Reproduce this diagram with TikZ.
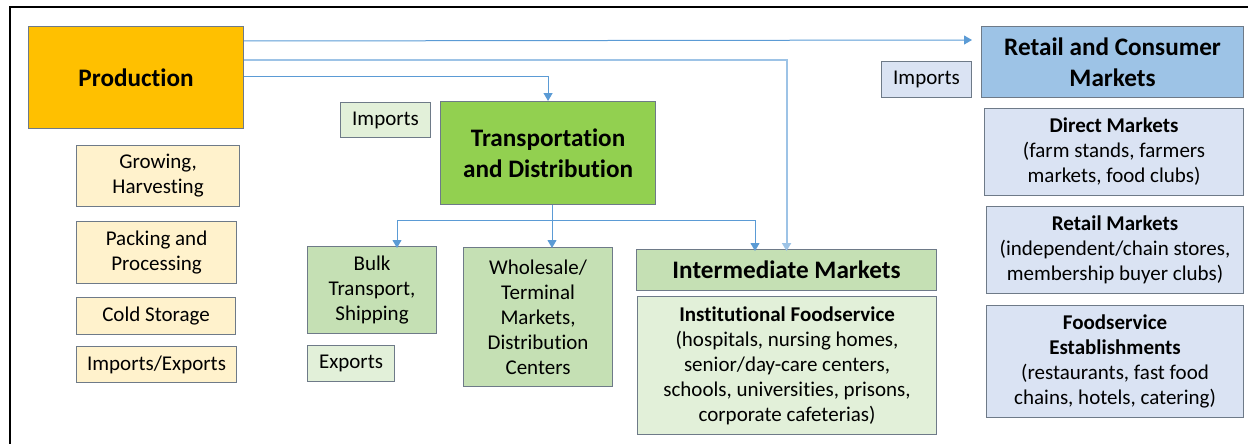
\documentclass[tikz,border=0pt]{standalone}
\usepackage{fontspec}
\setmainfont{Carlito}[Ligatures={NoCommon}]
\usetikzlibrary{arrows.meta}
\definecolor{prodc}{HTML}{FFC000}
\definecolor{lyellow}{HTML}{FFF2CC}
\definecolor{tdc}{HTML}{92D050}
\definecolor{mgreen}{HTML}{C5E0B4}
\definecolor{lgreen}{HTML}{E2F0D9}
\definecolor{rcc}{HTML}{9DC3E6}
\definecolor{lblue}{HTML}{DAE3F3}
\definecolor{bordc}{HTML}{6E7A88}
\definecolor{connc}{HTML}{5B9BD5}
\definecolor{connl}{HTML}{9DC3E6}
\begin{document}
\begin{tikzpicture}[x=1pt,y=-1pt,
  box/.style={draw=bordc, line width=1.1pt, anchor=north west, inner sep=0pt, align=center, font=\fontsize{21}{25}\selectfont},
  head/.style={box, font=\fontsize{25.2}{30.5}\selectfont\bfseries},
  conn/.style={draw=connc, line width=1pt},
  connlight/.style={draw=connl, line width=2pt},
  tip/.style={-{Triangle[width=9pt,length=8pt]}}]
\useasboundingbox (0,0) rectangle (1248,444);
% frame
\draw[line width=1.5pt] (1248,7) -- (10,7) -- (10,444);
% production column
\node[head, fill=prodc, minimum width=215pt, minimum height=102pt] (prod) at (28,26) {Production};
\node[box, fill=lyellow, minimum width=163pt, minimum height=61pt] (grow) at (76,145) {Growing,\\Harvesting};
\node[box, fill=lyellow, minimum width=160pt, minimum height=62pt] (pack) at (76,221) {Packing and\\Processing};
\node[box, fill=lyellow, minimum width=159pt, minimum height=37pt] (cold) at (76,297) {Cold Storage};
\node[box, fill=lyellow, minimum width=160pt, minimum height=36pt] (impex) at (76,346) {Imports/Exports};
% transportation column
\node[box, fill=lgreen, minimum width=90pt, minimum height=35pt] (impg) at (340,102) {Imports};
\node[head, fill=tdc, minimum width=215pt, minimum height=103pt] (td) at (440,101) {Transportation\\and Distribution};
\node[box, fill=mgreen, minimum width=129pt, minimum height=87pt] (bulk) at (307,246) {Bulk\\Transport,\\Shipping};
\node[box, fill=lgreen, minimum width=87pt, minimum height=36pt] (exp) at (307,345) {Exports};
\node[box, fill=mgreen, minimum width=149pt, minimum height=139pt] (whole) at (463,247) {Wholesale/\\Terminal\\Markets,\\Distribution\\Centers};
% intermediate
\node[head, fill=mgreen, minimum width=300pt, minimum height=41pt] (im) at (636,249) {Intermediate Markets};
\node[box, fill=lgreen, minimum width=299pt, minimum height=138pt] (inst) at (637,296) {{\bfseries Institutional Foodservice}\\(hospitals, nursing homes,\\senior/day-care centers,\\schools, universities, prisons,\\corporate cafeterias)};
% retail
\node[box, fill=lblue, minimum width=90pt, minimum height=36pt] (impb) at (881,61) {Imports};
\node[head, fill=rcc, minimum width=262pt, minimum height=71pt] (rc) at (981,26) {Retail and Consumer\\Markets};
\node[box, fill=lblue, minimum width=259pt, minimum height=87pt] (direct) at (984,108) {{\bfseries Direct Markets}\\(farm stands, farmers\\markets, food clubs)};
\node[box, fill=lblue, minimum width=257pt, minimum height=87pt] (retail) at (986,206) {{\bfseries Retail Markets}\\(independent/chain stores,\\membership buyer clubs)};
\node[box, fill=lblue, minimum width=257pt, minimum height=112pt] (fse) at (986,305) {{\bfseries Foodservice}\\{\bfseries Establishments}\\(restaurants, fast food\\chains, hotels, catering)};
% connectors from production
\coordinate (rcin) at (972,40);
\draw[conn, tip] ([yshift=-15pt]prod.north east) -- (rcin);
\draw[connlight, tip] ([yshift=-34pt]prod.north east) -| ([yshift=-2pt]im.north);
\draw[conn, tip] ([yshift=-51pt]prod.north east) -| (td.north);
% connectors from transportation
\coordinate (split) at (552,220);
\coordinate (bl) at (397,220);
\coordinate (br) at (755,220);
\draw[conn] (td.south -| split) -- (split);
\draw[conn] (bl) -- (br);
\draw[conn, tip] (bl) -- ([yshift=-2pt]bl |- bulk.north);
\draw[conn, tip] (split) -- ([yshift=-1pt]split |- whole.north);
\draw[conn, tip] (br) -- ([yshift=-2pt]br |- im.north);
\end{tikzpicture}
\end{document}
